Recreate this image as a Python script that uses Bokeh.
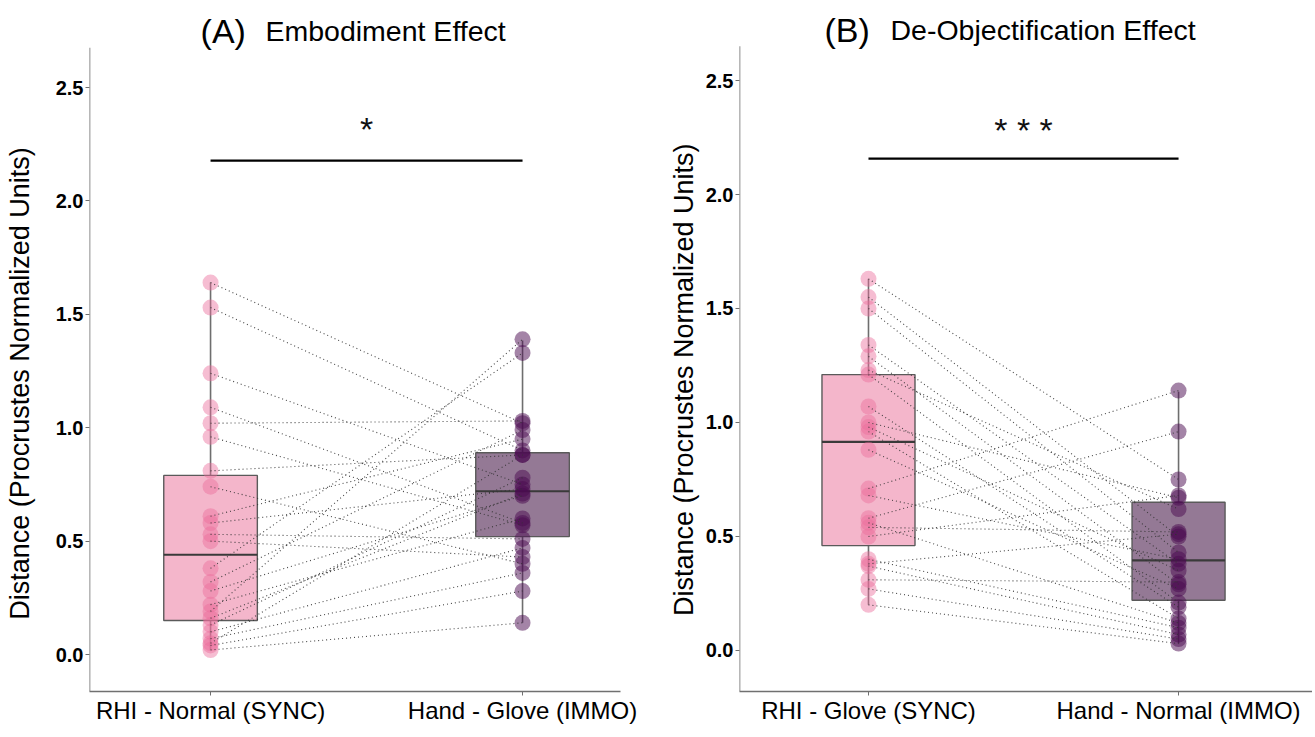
from bokeh.plotting import figure
from bokeh.layouts import row
from bokeh.models import Range1d, FixedTicker, Label
from bokeh.embed import file_html
from bokeh.resources import INLINE

# ---------------- data ----------------
cats_A = ["RHI - Normal (SYNC)", "Hand - Glove (IMMO)"]
cats_B = ["RHI - Glove (SYNC)", "Hand - Normal (IMMO)"]

# Panel A paired values (participant i: sync -> immo)
a_sync = [1.64, 1.53, 1.24, 1.09, 1.02, 0.96, 0.81, 0.74, 0.61, 0.58, 0.53, 0.50,
          0.38, 0.32, 0.28, 0.22, 0.19, 0.16, 0.13, 0.10, 0.07, 0.05, 0.04, 0.02]
a_immo = [1.02, 0.90, 0.75, 0.58, 1.03, 0.57, 0.88, 0.40, 0.95, 0.73, 0.51, 0.43,
          1.33, 0.99, 0.70, 0.60, 1.39, 0.71, 0.78, 0.47, 0.36, 0.88, 0.28, 0.14]

# Panel B paired values
b_sync = [1.63, 1.55, 1.50, 1.34, 1.29, 1.23, 1.21, 1.07, 1.00, 0.98, 0.96, 0.88,
          0.71, 0.68, 0.58, 0.56, 0.54, 0.50, 0.40, 0.38, 0.37, 0.31, 0.27, 0.20]
b_immo = [0.75, 0.50, 0.43, 0.38, 0.29, 0.62, 0.21, 0.19, 0.67, 0.35, 0.14, 0.27,
          1.14, 0.40, 0.96, 0.12, 0.52, 0.68, 0.10, 0.51, 0.07, 0.30, 0.05, 0.03]

# Box statistics: [sync, immo]
a_q1 = [0.15, 0.52]
a_med = [0.44, 0.72]
a_q3 = [0.79, 0.89]
a_lo = [0.02, 0.14]
a_hi = [1.64, 1.385]

b_q1 = [0.46, 0.22]
b_med = [0.915, 0.395]
b_q3 = [1.21, 0.65]
b_lo = [0.20, 0.03]
b_hi = [1.63, 1.135]

y_ticks = [0.0, 0.5, 1.0, 1.5, 2.0, 2.5]
sig_A = "*"
sig_B = "* * *"
title_A = ("(A)", "Embodiment Effect")
title_B = ("(B)", "De-Objectification Effect")
y_label = "Distance (Procrustes Normalized Units)"

# ---------------- styles ----------------
PINK_BOX = "#F4B6CB"
PURPLE_BOX = "#947995"
PINK_PT = "#EC6C9C"
PURPLE_PT = "#4A0A50"
FONT = "'Liberation Sans', Arial, sans-serif"
NBSP = "\u00a0"


def panel(cats, sync, immo, q1, med, q3, lo, hi, xr, yr, spine_top, sig, sig_y, bar_y,
          title, title_y, t1x, t2x, width, height, bl, br, bb, label_standoff, label_pad):
    p = figure(width=width, height=height, output_backend="svg", toolbar_location=None,
               x_range=Range1d(*xr), y_range=Range1d(*yr),
               min_border_left=bl, min_border_right=br, min_border_top=0,
               min_border_bottom=bb)
    p.outline_line_color = None
    p.grid.visible = False
    p.background_fill_color = "white"

    # left spine (stops below the title area)
    p.segment(x0=[xr[0]], y0=[yr[0]], x1=[xr[0]], y1=[spine_top], line_color="#707070",
              line_width=1.6)

    xpos = [1, 2]
    bw = 0.30
    box_cols = [PINK_BOX, PURPLE_BOX]
    # whiskers
    for i in range(2):
        p.segment(x0=[xpos[i], xpos[i]], y0=[lo[i], q3[i]], x1=[xpos[i], xpos[i]],
                  y1=[q1[i], hi[i]], line_color="#6e6e6e", line_width=1.6)
    # boxes
    p.quad(left=[x - bw / 2 for x in xpos], right=[x + bw / 2 for x in xpos],
           bottom=q1, top=q3, fill_color=box_cols, line_color="#5a5a5a", line_width=1.4)
    p.segment(x0=[x - bw / 2 for x in xpos], x1=[x + bw / 2 for x in xpos], y0=med, y1=med,
              line_color="#3a3a3a", line_width=2.2)
    # points
    p.scatter(x=[1] * len(sync), y=sync, size=16, fill_color=PINK_PT, fill_alpha=0.45,
              line_color=None)
    p.scatter(x=[2] * len(immo), y=immo, size=16, fill_color=PURPLE_PT, fill_alpha=0.5,
              line_color=None)
    # paired lines
    p.segment(x0=[1] * len(sync), y0=sync, x1=[2] * len(immo), y1=immo,
              line_color="#333333", line_width=1.1, line_dash="1 3", line_alpha=0.9)
    # significance
    p.segment(x0=[1.0], y0=[bar_y], x1=[2.0], y1=[bar_y], line_color="black", line_width=2.2)
    p.add_layout(Label(x=1.5, y=sig_y, text=sig, text_align="center", text_baseline="middle",
                       text_font_size="34px", text_font=FONT, text_color="#111111"))
    # title
    p.add_layout(Label(x=t1x, y=title_y, text=title[0], text_align="left",
                       text_baseline="middle", text_font_size="34px", text_font=FONT,
                       text_color="black"))
    p.add_layout(Label(x=t2x, y=title_y, text=title[1], text_align="left",
                       text_baseline="middle", text_font_size="28.5px", text_font=FONT,
                       text_color="black"))

    # axes
    p.xaxis.ticker = FixedTicker(ticks=xpos)
    p.xaxis.major_label_overrides = {1: cats[0], 2: cats[1]}
    p.xaxis.major_label_text_font = FONT
    p.xaxis.major_label_text_font_size = "24px"
    p.xaxis.major_label_text_color = "black"
    p.xaxis.major_label_standoff = 1
    p.xaxis.minor_tick_line_color = None
    p.xaxis.axis_line_color = "#707070"
    p.yaxis.ticker = FixedTicker(ticks=y_ticks)
    p.yaxis.major_label_overrides = {t: f"{t:.1f}" for t in y_ticks}
    p.yaxis.major_label_text_font = FONT
    p.yaxis.major_label_text_font_style = "bold"
    p.yaxis.major_label_text_font_size = "20px"
    p.yaxis.major_label_text_color = "black"
    p.yaxis.major_label_standoff = 2
    p.yaxis.minor_tick_line_color = None
    p.yaxis.axis_line_color = None
    # the label is centred on the (taller) frame; pad its top end so the words sit lower
    p.yaxis.axis_label = y_label + NBSP * label_pad
    p.yaxis.axis_label_text_font = FONT
    p.yaxis.axis_label_text_font_style = "normal"
    p.yaxis.axis_label_text_font_size = "27px"
    p.yaxis.axis_label_text_color = "black"
    p.yaxis.axis_label_standoff = label_standoff
    for ax in (p.xaxis, p.yaxis):
        ax.axis_line_width = 1.6
        ax.major_tick_line_color = "#707070"
        ax.major_tick_in = 0
        ax.major_tick_out = 4
    return p


pA = panel(cats_A, a_sync, a_immo, a_q1, a_med, a_q3, a_lo, a_hi,
           xr=(0.612, 2.314), yr=(-0.163, 2.884), spine_top=2.676,
           sig=sig_A, sig_y=2.317, bar_y=2.178, title=title_A, title_y=2.751,
           t1x=0.968, t2x=1.176, width=640, height=737, bl=89, br=20, bb=46,
           label_standoff=18, label_pad=10)
pB = panel(cats_B, b_sync, b_immo, b_q1, b_med, b_q3, b_lo, b_hi,
           xr=(0.584, 2.432), yr=(-0.180, 2.851), spine_top=2.65,
           sig=sig_B, sig_y=2.285, bar_y=2.157, title=title_B, title_y=2.72,
           t1x=0.858, t2x=1.071, width=672, height=737, bl=99, br=0, bb=46,
           label_standoff=4, label_pad=9)

layout = row(pA, pB)
open("out.html", "w").write(file_html(layout, INLINE))
